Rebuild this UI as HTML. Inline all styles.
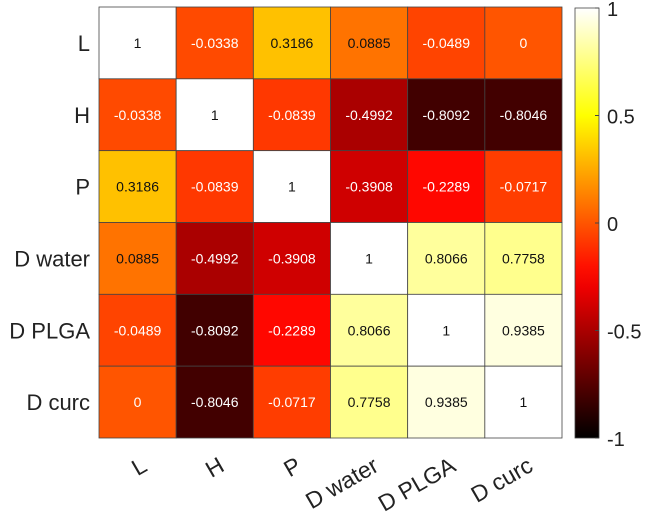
<!DOCTYPE html>
<html><head><meta charset="utf-8"><style>
body{margin:0;background:#fff;width:646px;height:513px;overflow:hidden}
svg{display:block;font-family:"Liberation Sans",Arial,sans-serif}
</style></head><body>
<svg id="chart" width="646" height="513">
<defs><linearGradient id="cbg" x1="0" y1="1" x2="0" y2="0"></linearGradient></defs>
<g id="cells"></g><g id="labels"></g><g id="cbar"></g>
</svg>
<script>
const categories = ["L","H","P","D water","D PLGA","D curc"];
const matrix = [
 [1,-0.0338,0.3186,0.0885,-0.0489,0],
 [-0.0338,1,-0.0839,-0.4992,-0.8092,-0.8046],
 [0.3186,-0.0839,1,-0.3908,-0.2289,-0.0717],
 [0.0885,-0.4992,-0.3908,1,0.8066,0.7758],
 [-0.0489,-0.8092,-0.2289,0.8066,1,0.9385],
 [0,-0.8046,-0.0717,0.7758,0.9385,1]
];
const cbTicks = [1,0.5,0,-0.5,-1];
const NS="http://www.w3.org/2000/svg";
const X0=99,X1=562,Y0=7,Y1=438, CB0=575,CB1=599;
const cw=(X1-X0)/categories.length, ch=(Y1-Y0)/categories.length;
function hot(v){const t=(v+1)/2;const c=x=>Math.round(255*Math.max(0,Math.min(1,x)));
 return `rgb(${c(t/0.375)},${c((t-0.375)/0.375)},${c((t-0.75)/0.25)})`;}
function el(tag,attrs,parent){const e=document.createElementNS(NS,tag);for(const k in attrs)e.setAttribute(k,attrs[k]);parent.appendChild(e);return e;}
const cells=document.getElementById('cells'),labels=document.getElementById('labels'),cbar=document.getElementById('cbar');
const xS=i=>X0+i*cw, yS=i=>Y0+i*ch;
matrix.forEach((row,r)=>row.forEach((v,c)=>{
 const rc=el('rect',{x:xS(c),y:yS(r),width:cw,height:ch,fill:hot(v),stroke:'#444','stroke-width':0.8},cells);
 
 
 const t=el('text',{x:xS(c)+cw/2,y:yS(r)+ch/2+5,'text-anchor':'middle','font-size':14,fill:v>0.05?'#111':'#fff'},cells);
 t.textContent=String(v);
 
 
}));
categories.forEach((c,i)=>{
 const y=el('text',{x:90,y:yS(i)+ch/2+8,'text-anchor':'end','font-size':22,fill:'#222'},labels);
 y.textContent=c;
 
 
 const cx=xS(i)+cw/2+11, cy=470;
 const x=el('text',{x:cx,y:cy,'text-anchor':'end','font-size':23,fill:'#222',transform:`rotate(-30 ${cx} ${cy})`},labels);
 x.textContent=c;
 
 
});
const g=document.getElementById('cbg');
for(let i=0;i<=20;i++){const v=-1+i*0.1;el('stop',{offset:(i/20),'stop-color':hot(v)},g);}
const cb=el('rect',{x:CB0,y:Y0+1,width:CB1-CB0,height:Y1-Y0-1,fill:'url(#cbg)',stroke:'#444','stroke-width':0.8},cbar);


const cbY=v=>Y1-(v+1)/2*(Y1-Y0-1);
cbTicks.forEach(v=>{
 el('line',{x1:CB1-4,x2:CB1,y1:cbY(v),y2:cbY(v),stroke:'#444'},cbar);
 const t=el('text',{x:607,y:cbY(v)+8,'font-size':20,fill:'#222'},cbar);
 t.textContent=String(v);
 
 
});
</script>
</body></html>
